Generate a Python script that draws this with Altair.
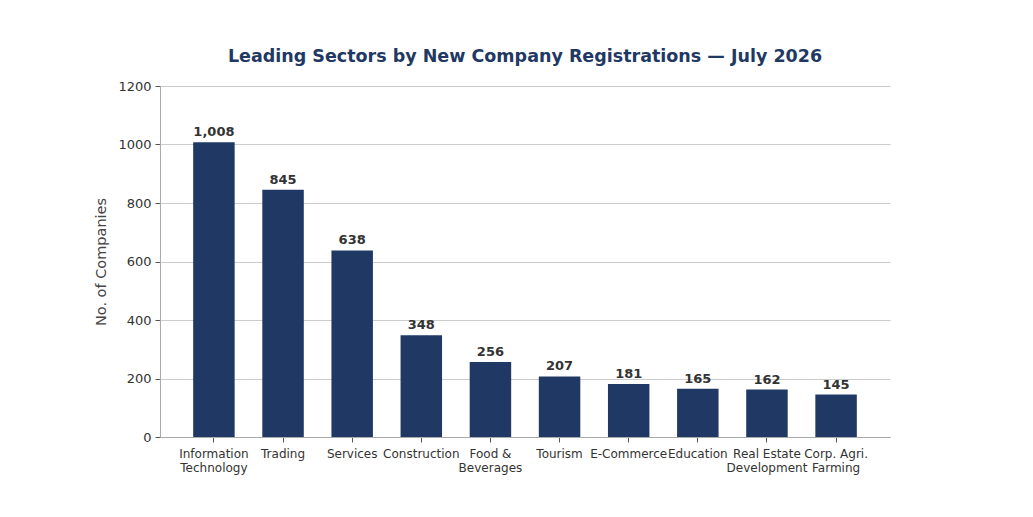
import altair as alt
import pandas as pd

sectors = ["Information\nTechnology", "Trading", "Services", "Construction", "Food &\nBeverages",
           "Tourism", "E-Commerce", "Education", "Real Estate\nDevelopment", "Corp. Agri.\nFarming"]
counts = [1008, 845, 638, 348, 256, 207, 181, 165, 162, 145]

df = pd.DataFrame({"sector": sectors, "count": counts})
df["label"] = [f"{c:,}" for c in counts]

FONT = "DejaVu Sans"
NAVY = "#1f3864"

x = alt.X("sector:N", sort=sectors, title=None,
          scale=alt.Scale(paddingInner=0.4, paddingOuter=0.48),
          axis=alt.Axis(labelAngle=0, labelExpr="split(datum.label, '\\n')",
                        labelFontSize=12, labelColor="#333333", labelFont=FONT,
                        labelPadding=6, tickSize=5, tickColor="#555555",
                        domainColor="#aaaaaa", labelLineHeight=14))
y = alt.Y("count:Q", title="No. of Companies",
          scale=alt.Scale(domain=[0, 1200]),
          axis=alt.Axis(values=[0, 200, 400, 600, 800, 1000, 1200], format="d",
                        labelFontSize=13, labelColor="#333333", labelFont=FONT,
                        titleFontSize=14.5, titleFontWeight="normal", titleColor="#444444",
                        titleFont=FONT, titlePadding=9, tickSize=5, tickColor="#555555",
                        domainColor="#aaaaaa", gridColor="#cccccc", gridWidth=1,
                        labelPadding=4))

bars = alt.Chart(df).mark_bar(color=NAVY).encode(x=x, y=y)
text = alt.Chart(df).mark_text(dy=-3, baseline="bottom", fontWeight="bold", fontSize=13,
                               color="#333333", font=FONT).encode(
    x=alt.X("sector:N", sort=sectors), y="count:Q", text="label:N")

chart = (bars + text).properties(
    width=730, height=351,
    title=alt.TitleParams("Leading Sectors by New Company Registrations — July 2026",
                          fontSize=17.5, fontWeight="bold", color=NAVY, font=FONT,
                          anchor="middle", offset=15),
    autosize=alt.AutoSizeParams(type="none"),
    padding={"left": 152, "top": 78, "right": 10, "bottom": 60},
).configure_view(stroke=None).configure_axisX(grid=False)

chart.save("out.html", embed_options={"renderer": "svg", "actions": False})
